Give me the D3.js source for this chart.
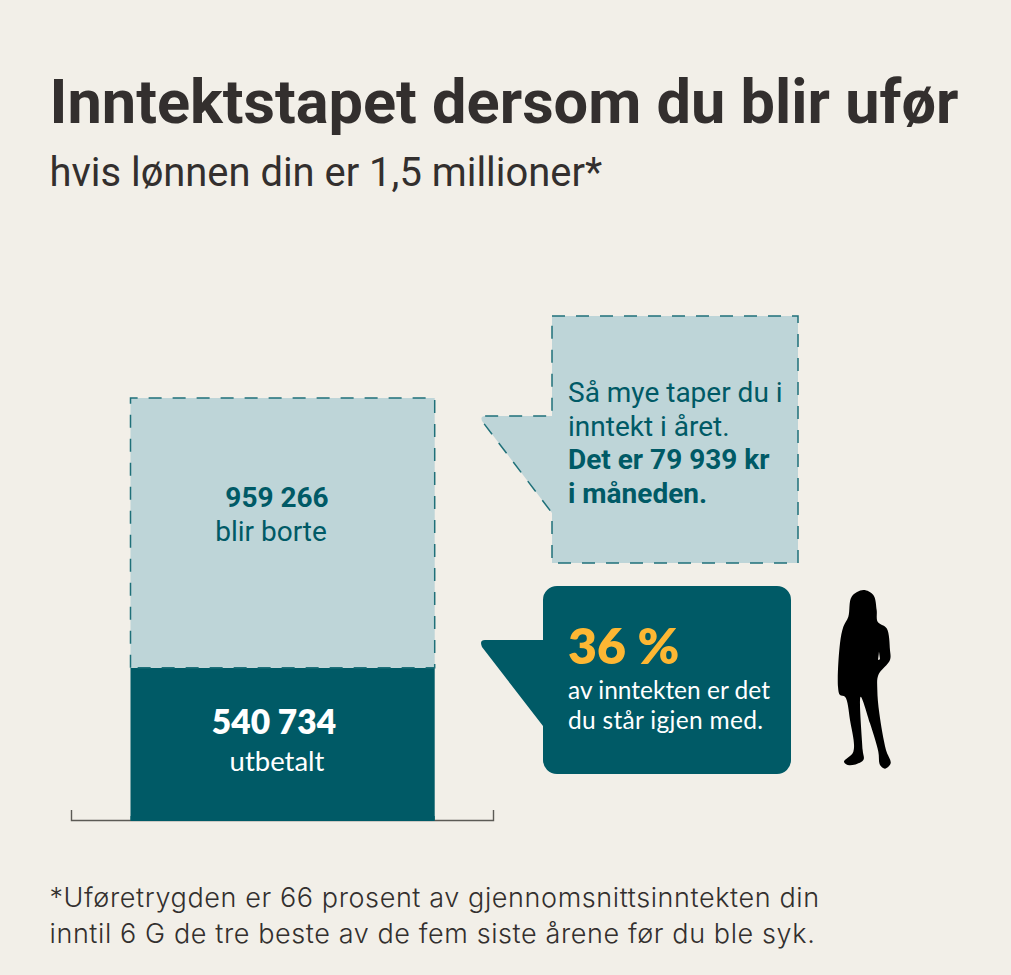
<!DOCTYPE html>
<html lang="no">
<head>
<meta charset="utf-8">
<title>Inntektstapet dersom du blir ufør</title>
<script src="https://cdn.jsdelivr.net/npm/d3@7/dist/d3.min.js"></script>
<style>
  html, body { margin: 0; padding: 0; background: #f2efe8; }
  svg { display: block; }
</style>
</head>
<body>
<svg id="chart" width="1011" height="975"></svg>
<script>
// Income split, in kroner per year
const salary = 1500000;
const paidOut = 540734;
const lost = 959266;

const segments = [
  { key: "paid", from: 0, to: paidOut },
  { key: "lost", from: paidOut, to: paidOut + lost }
];

const titleText = "Inntektstapet dersom du blir ufør";
const subtitleText = "hvis lønnen din er 1,5 millioner*";
const footnoteLines = [
  "*Uføretrygden er 66 prosent av gjennomsnittsinntekten din",
  "inntil 6 G de tre beste av de fem siste årene før du ble syk."
];

const colors = { bg: "#f2efe8", dark: "#005a66", light: "#bed5d8", dash: "#1f7079", ink: "#332f2e", amber: "#fdb733", axis: "#5c5a55" };
const dashPattern = "13 11";

const svg = d3.select("#chart");
svg.append("rect").attr("width", 1011).attr("height", 975).attr("fill", colors.bg);

const sans = "Roboto, sans-serif";
const humanist = "Lato, 'Noto Sans', sans-serif";

function label(x, y, text, size, weight, fill, family, anchor, spacing) {
  return svg.append("text")
    .attr("x", x).attr("y", y)
    .attr("font-family", family || sans)
    .attr("font-size", size)
    .attr("font-weight", weight)
    .attr("fill", fill)
    .attr("text-anchor", anchor || "start")
    .attr("letter-spacing", spacing || 0)
    .text(text);
}

// Heading
label(49.5, 123, titleText, 61.3, 700, colors.ink);
label(49.5, 186, subtitleText, 39.9, 400, colors.ink);

// Stacked bar
const y = d3.scaleLinear().domain([0, salary]).range([820, 398]);
const x = d3.scaleBand().domain(["lønn"]).range([130.5, 434.7]);

svg.selectAll("rect.segment")
  .data(segments)
  .join("rect")
  .attr("class", "segment")
  .attr("x", x("lønn"))
  .attr("width", x.bandwidth())
  .attr("y", d => y(d.to))
  .attr("height", d => y(d.from) - y(d.to))
  .attr("fill", d => d.key === "paid" ? colors.dark : colors.light);

// Dashed outline around the lost part of the bar
const lostTop = y(paidOut + lost), lostBottom = y(paidOut);
const barLeft = x("lønn"), barRight = barLeft + x.bandwidth();
svg.append("path")
  .attr("d", d3.line()([[barLeft, lostBottom], [barLeft, lostTop], [barRight, lostTop], [barRight, lostBottom], [barLeft, lostBottom]]))
  .attr("fill", "none")
  .attr("stroke", colors.dash)
  .attr("stroke-width", 1.5)
  .attr("stroke-dasharray", dashPattern);

// Baseline with end ticks
const axisLine = d3.path();
axisLine.moveTo(71.5, 810);
axisLine.lineTo(71.5, 820.5);
axisLine.lineTo(493.5, 820.5);
axisLine.lineTo(493.5, 810);
svg.append("path").attr("d", axisLine.toString()).attr("fill", "none").attr("stroke", colors.axis).attr("stroke-width", 1.4);
svg.append("rect").attr("x", barLeft).attr("y", 816).attr("width", x.bandwidth()).attr("height", 5).attr("fill", colors.dark);

// Bar labels
label(277, 507, "959 266", 28, 700, colors.dark, sans, "middle");
label(271, 541, "blir borte", 28, 400, colors.dark, sans, "middle");
label(274, 733.5, "540 734", 33.5, 800, "#ffffff", humanist, "middle");
label(277, 771, "utbetalt", 27.5, 400, "#ffffff", humanist, "middle");

// Callout: what is lost
const lightBubble = d3.path();
lightBubble.moveTo(552, 316);
lightBubble.lineTo(798, 316);
lightBubble.lineTo(798, 563);
lightBubble.lineTo(552, 563);
lightBubble.lineTo(552, 513);
lightBubble.lineTo(482, 421);
lightBubble.quadraticCurveTo(480, 416, 485, 416);
lightBubble.lineTo(552, 416);
lightBubble.closePath();
svg.append("path")
  .attr("d", lightBubble.toString())
  .attr("fill", colors.light)
  .attr("stroke", colors.dash)
  .attr("stroke-width", 1.5)
  .attr("stroke-dasharray", dashPattern);

label(568, 402, "Så mye taper du i", 28, 400, colors.dark);
label(568, 436, "inntekt i året.", 28, 400, colors.dark);
label(568, 469, "Det er 79 939 kr", 28, 700, colors.dark);
label(568, 503, "i måneden.", 28, 700, colors.dark);

// Callout: what remains
const r = 14;
const darkBubble = d3.path();
darkBubble.moveTo(543 + r, 586);
darkBubble.lineTo(791 - r, 586);
darkBubble.arcTo(791, 586, 791, 586 + r, r);
darkBubble.lineTo(791, 774 - r);
darkBubble.arcTo(791, 774, 791 - r, 774, r);
darkBubble.lineTo(543 + r, 774);
darkBubble.arcTo(543, 774, 543, 774 - r, r);
darkBubble.lineTo(543, 726);
darkBubble.lineTo(482, 647);
darkBubble.quadraticCurveTo(479, 640, 485, 640);
darkBubble.lineTo(543, 640);
darkBubble.lineTo(543, 586 + r);
darkBubble.arcTo(543, 586, 543 + r, 586, r);
darkBubble.closePath();
svg.append("path").attr("d", darkBubble.toString()).attr("fill", colors.dark);

label(568, 664, "36 %", 50, 800, colors.amber, humanist);
label(568, 699, "av inntekten er det", 24.5, 400, "#ffffff", humanist);
label(568, 729, "du står igjen med.", 24.5, 400, "#ffffff", humanist, "start", 0.3);

// Standing figure
const figureOutline = [
  [130,30],[160,45],[170,90],[173,125],[200,145],[210,210],[210,240],[175,285],[172,330],
  [178,400],[198,510],[212,550],[195,566],[180,555],[175,515],[150,430],[122,350],[128,510],
  [130,540],[88,556],[72,545],[100,515],[90,420],[75,350],[60,345],[54,320],[60,190],
  [70,140],[85,110],[95,50]
];
const armGap = [[177,215],[180,238],[174,240]];
const figure = svg.append("g").attr("transform", "translate(820,580) scale(0.3333)");
const outline = d3.line().curve(d3.curveCatmullRomClosed.alpha(0.5));
figure.append("path").attr("d", outline(figureOutline)).attr("fill", "#000");
figure.append("path").attr("d", d3.line().curve(d3.curveLinearClosed)(armGap)).attr("fill", colors.bg);

// Footnote
footnoteLines.forEach((line, i) => {
  label(49.5, 907 + i * 35.5, line, 27, 300, colors.ink, "Inter, sans-serif", "start", 0.6);
});
</script>
</body>
</html>
